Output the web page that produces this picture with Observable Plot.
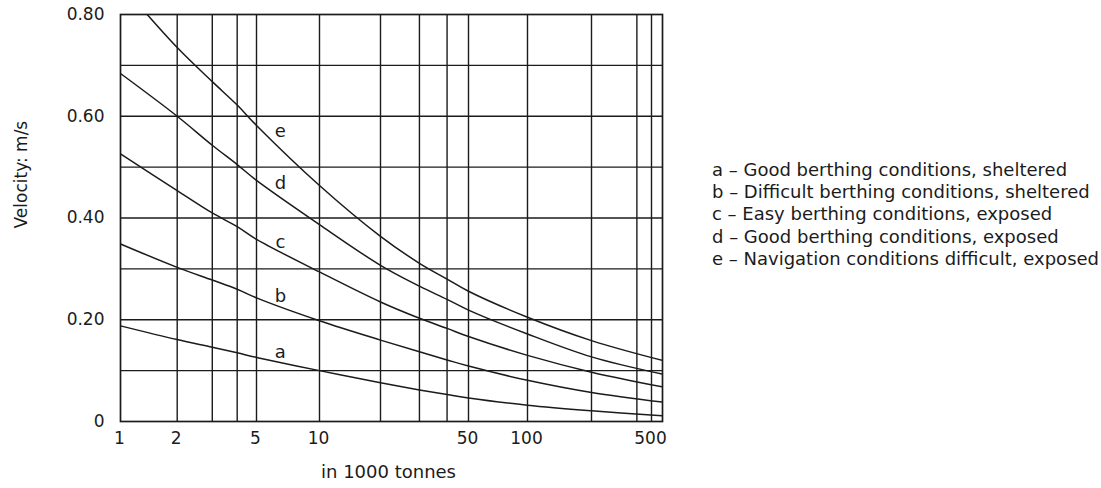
<!DOCTYPE html>
<html><head><meta charset="utf-8">
<script src="https://cdn.jsdelivr.net/npm/d3@7"></script>
<script src="https://cdn.jsdelivr.net/npm/@observablehq/plot@0.6"></script>
<style>
body{margin:0;background:#fff;font-family:"DejaVu Sans",sans-serif;}
#wrap{position:relative;width:1101px;height:488px;overflow:hidden;}
#legend{position:absolute;left:712px;top:158.6px;font-size:18px;line-height:22.4px;color:#1b1b1b;white-space:nowrap;}
</style></head><body>
<div id="wrap"><div id="chart"></div><div id="legend"></div></div>
<script>
// tonnage (in 1000 tonnes) at which curves were read
const tonnage = [1, 2, 3, 4, 5, 10, 20, 30, 40, 50, 100, 200, 600];
// velocity (m/s) for each curve
const curveA = [0.188, 0.161, 0.146, 0.135, 0.126, 0.100, 0.076, 0.062, 0.053, 0.046, 0.032, 0.021, 0.011];
const curveB = [0.349, 0.303, 0.278, 0.260, 0.243, 0.198, 0.160, 0.137, 0.121, 0.109, 0.081, 0.057, 0.038];
const curveC = [0.526, 0.454, 0.410, 0.383, 0.358, 0.294, 0.235, 0.203, 0.183, 0.167, 0.130, 0.097, 0.068];
const curveD = [0.684, 0.600, 0.543, 0.505, 0.474, 0.387, 0.307, 0.266, 0.240, 0.219, 0.172, 0.127, 0.093];
const curveE = [0.860, 0.735, 0.668, 0.622, 0.582, 0.464, 0.364, 0.311, 0.280, 0.256, 0.205, 0.159, 0.120];
const seriesKeys = ["a", "b", "c", "d", "e"];
const seriesLegend = [
  "a \u2013 Good berthing conditions, sheltered",
  "b \u2013 Difficult berthing conditions, sheltered",
  "c \u2013 Easy berthing conditions, exposed",
  "d \u2013 Good berthing conditions, exposed",
  "e \u2013 Navigation conditions difficult, exposed"
];
// curve letter label positions (data units)
const labelTonnage = [6.5, 6.5, 6.5, 6.5, 6.5];
const labelVelocity = [0.136, 0.246, 0.352, 0.468, 0.570];
// grid and ticks
const xGrid = [2, 3, 4, 5, 10, 20, 30, 40, 50, 100, 200, 400, 500];
const yGrid = [0.1, 0.2, 0.3, 0.4, 0.5, 0.6, 0.7];
const xTicks = [1, 2, 5, 10, 50, 100, 500];
const yTicks = [0, 0.2, 0.4, 0.6, 0.8];
const xBreaks = [1, 2, 5, 10, 20, 50, 100, 200, 500, 600];

const curves = [curveA, curveB, curveC, curveD, curveE];
const rows = curves.flatMap((vals, i) => vals.map((v, j) => ({k: seriesKeys[i], t: tonnage[j], v})));
const labels = seriesKeys.map((k, i) => ({k, t: labelTonnage[i], v: labelVelocity[i]}));
const ink = "#1b1b1b";

const chart = Plot.plot({
  width: 700, height: 488,
  marginTop: 14, marginBottom: 67, marginLeft: 120, marginRight: 38,
  style: {fontFamily: "DejaVu Sans", color: ink, background: "#fff", overflow: "visible"},
  x: {type: "log", domain: xBreaks, range: [120, 176.7, 256, 319, 380, 468, 527, 591, 651, 662], axis: null},
  y: {domain: [0, 0.8], axis: null},
  marks: [
    Plot.ruleX(xGrid, {stroke: ink, strokeWidth: 1.4}),
    Plot.ruleY(yGrid, {stroke: ink, strokeWidth: 1.4}),
    Plot.frame({stroke: ink, strokeWidth: 1.7}),
    Plot.line(rows, {x: "t", y: "v", z: "k", curve: "catmull-rom", stroke: ink, strokeWidth: 1.5, clip: true}),
    Plot.text(labels, {x: "t", y: "v", text: "k", fontSize: 18, fill: ink}),
    Plot.text(xTicks, {x: d => d, text: d => String(d), frameAnchor: "bottom", lineAnchor: "top", dy: 10, dx: -1, fontSize: 17, fill: ink}),
    Plot.text(yTicks, {y: d => d, text: d => d === 0 ? "0" : d.toFixed(2), frameAnchor: "left", textAnchor: "end", dx: -16, fontSize: 17, fill: ink}),
    Plot.text(["in 1000 tonnes"], {frameAnchor: "bottom", dy: 56, dx: -3, fontSize: 18, fill: ink}),
    Plot.text(["Velocity: m/s"], {frameAnchor: "left", rotate: -90, dx: -98.5, dy: 10.5, fontSize: 17, fill: ink})
  ]
});
document.getElementById("chart").appendChild(chart);
const legend = document.getElementById("legend");
seriesLegend.forEach(s => { const d = document.createElement("div"); d.textContent = s; legend.appendChild(d); });
</script>
</body></html>
